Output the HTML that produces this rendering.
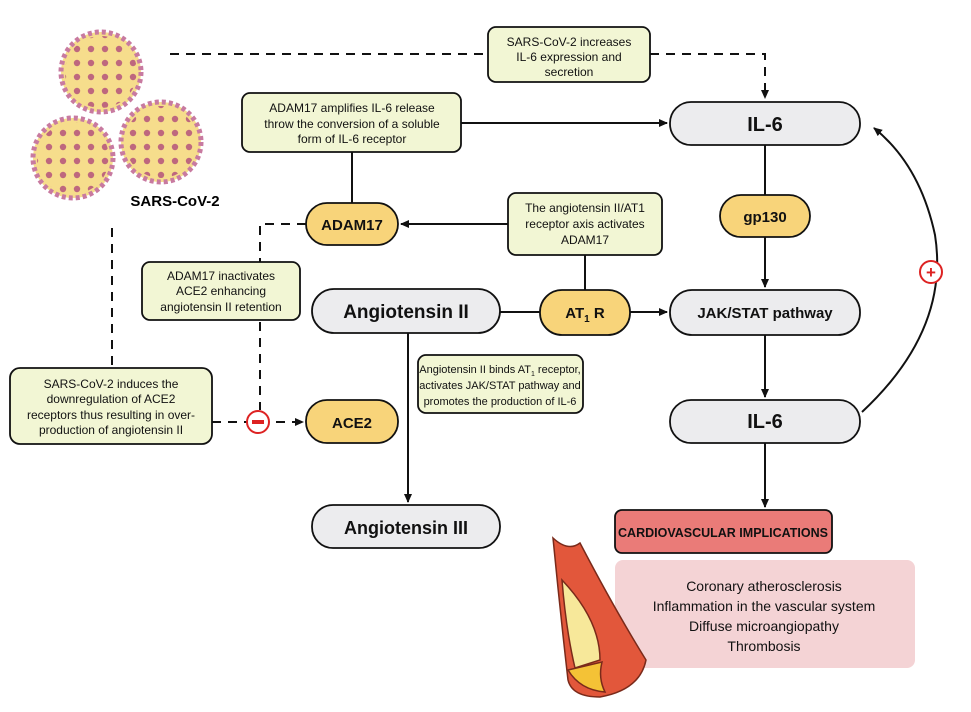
<!DOCTYPE html>
<html><head><meta charset="utf-8"><style>
body{margin:0;background:#fff}
svg text{font-family:"Liberation Sans",sans-serif}
</style></head><body>
<svg width="971" height="707" viewBox="0 0 971 707" xmlns="http://www.w3.org/2000/svg">
<defs>
<marker id="ar" markerWidth="10" markerHeight="10" refX="8" refY="5" orient="auto" markerUnits="userSpaceOnUse"><path d="M0,1 L9,5 L0,9 z" fill="#111"/></marker>
<pattern id="vp" width="14" height="14" patternUnits="userSpaceOnUse"><circle cx="7" cy="7" r="3.2" fill="#b04a7a"/></pattern>
</defs>
<g id="virus">
<circle cx="101" cy="72" r="40" fill="#f6dd8c" stroke="#c87aa0" stroke-width="5" stroke-dasharray="4 3"/>
<circle cx="101" cy="72" r="36" fill="url(#vp)" opacity="0.8"/>
<circle cx="73" cy="158" r="40" fill="#f6dd8c" stroke="#c87aa0" stroke-width="5" stroke-dasharray="4 3"/>
<circle cx="73" cy="158" r="36" fill="url(#vp)" opacity="0.8"/>
<circle cx="161" cy="142" r="40" fill="#f6dd8c" stroke="#c87aa0" stroke-width="5" stroke-dasharray="4 3"/>
<circle cx="161" cy="142" r="36" fill="url(#vp)" opacity="0.8"/>
</g>
<text x="175" y="206" font-size="15" font-weight="bold" text-anchor="middle">SARS-CoV-2</text>

<g fill="none" stroke="#111" stroke-width="2">
<path d="M170 54 H765 V98" stroke-dasharray="9 7" marker-end="url(#ar)"/>
<path d="M461 123 H667" marker-end="url(#ar)"/>
<path d="M352 152 V203"/>
<path d="M508 224 H401" marker-end="url(#ar)"/>
<path d="M585 255 V290"/>
<path d="M306 224 H260 V410" stroke-dasharray="9 7"/>
<path d="M500 312 H540"/>
<path d="M630 312 H667" marker-end="url(#ar)"/>
<path d="M765 145 V195"/>
<path d="M765 237 V287" marker-end="url(#ar)"/>
<path d="M765 335 V397" marker-end="url(#ar)"/>
<path d="M765 443 V507" marker-end="url(#ar)"/>
<path d="M408 333 V502" marker-end="url(#ar)"/>
<path d="M112 228 V368" stroke-dasharray="9 7"/>
<path d="M212 422 H303" stroke-dasharray="9 7" marker-end="url(#ar)"/>
<path d="M862 412 Q950 330 935 235 Q920 165 874 128" marker-end="url(#ar)"/>
</g>
<circle cx="931" cy="272" r="11" fill="#fff" stroke="#d22" stroke-width="2"/>
<text x="931" y="278" font-size="17" font-weight="bold" fill="#d22" text-anchor="middle">+</text>
<circle cx="258" cy="422" r="11" fill="#fff" stroke="#d22" stroke-width="2"/>
<rect x="252" y="420" width="12" height="4" fill="#d22"/>

<g stroke="#111" stroke-width="1.8">
<rect x="488" y="27" width="162" height="55" rx="8" fill="#f2f6d4"/>
<rect x="242" y="93" width="219" height="59" rx="8" fill="#f2f6d4"/>
<rect x="508" y="193" width="154" height="62" rx="8" fill="#f2f6d4"/>
<rect x="142" y="262" width="158" height="58" rx="8" fill="#f2f6d4"/>
<rect x="418" y="355" width="165" height="58" rx="8" fill="#f2f6d4"/>
<rect x="10" y="368" width="202" height="76" rx="10" fill="#f2f6d4"/>
<rect x="670" y="102" width="190" height="43" rx="21" fill="#ececee"/>
<rect x="670" y="290" width="190" height="45" rx="22" fill="#ececee"/>
<rect x="670" y="400" width="190" height="43" rx="21" fill="#ececee"/>
<rect x="312" y="289" width="188" height="44" rx="22" fill="#ececee"/>
<rect x="312" y="505" width="188" height="43" rx="21" fill="#ececee"/>
<rect x="306" y="203" width="92" height="42" rx="21" fill="#f8d47a"/>
<rect x="306" y="400" width="92" height="43" rx="21" fill="#f8d47a"/>
<rect x="540" y="290" width="90" height="45" rx="22" fill="#f8d47a"/>
<rect x="720" y="195" width="90" height="42" rx="21" fill="#f8d47a"/>
<rect x="615" y="510" width="217" height="43" rx="7" fill="#ea7b78"/>
</g>
<rect x="615" y="560" width="300" height="108" rx="8" fill="#f4d3d5"/>

<g font-size="12" text-anchor="middle" fill="#111">
<text x="569" y="46">SARS-CoV-2 increases</text><text x="569" y="61">IL-6 expression and</text><text x="569" y="76">secretion</text>
<text x="352" y="112">ADAM17 amplifies IL-6 release</text><text x="352" y="128">throw the conversion of a soluble</text><text x="352" y="143">form of IL-6 receptor</text>
<text x="585" y="212">The angiotensin II/AT1</text><text x="585" y="228">receptor axis activates</text><text x="585" y="244">ADAM17</text>
<text x="221" y="280">ADAM17 inactivates</text><text x="221" y="295">ACE2 enhancing</text><text x="221" y="311">angiotensin II retention</text>
</g>
<g font-size="11" text-anchor="middle" fill="#111">
<text x="500" y="373">Angiotensin II binds AT<tspan font-size="7" dy="3">1</tspan><tspan dy="-3"> receptor,</tspan></text><text x="500" y="389">activates JAK/STAT pathway and</text><text x="500" y="405">promotes the production of IL-6</text>
</g>
<g font-size="12" text-anchor="middle" fill="#111">
<text x="111" y="388">SARS-CoV-2 induces the</text><text x="111" y="403">downregulation of ACE2</text><text x="111" y="419">receptors thus resulting in over-</text><text x="111" y="434">production of angiotensin II</text>
</g>
<g font-weight="bold" text-anchor="middle" fill="#111">
<text x="765" y="131" font-size="20">IL-6</text>
<text x="765" y="428" font-size="20">IL-6</text>
<text x="765" y="318" font-size="15">JAK/STAT pathway</text>
<text x="406" y="318" font-size="19">Angiotensin II</text>
<text x="406" y="534" font-size="18">Angiotensin III</text>
<text x="352" y="230" font-size="15">ADAM17</text>
<text x="352" y="428" font-size="15">ACE2</text>
<text x="765" y="222" font-size="15">gp130</text>
<text x="585" y="318" font-size="15">AT<tspan font-size="10" dy="4">1</tspan><tspan dy="-4"> R</tspan></text>
<text x="723" y="537" font-size="12.5">CARDIOVASCULAR IMPLICATIONS</text>
</g>
<g font-size="14" text-anchor="middle" fill="#111">
<text x="764" y="591">Coronary atherosclerosis</text>
<text x="764" y="611">Inflammation in the vascular system</text>
<text x="764" y="631">Diffuse microangiopathy</text>
<text x="764" y="651">Thrombosis</text>
</g>
<g stroke="#7a2a1a" stroke-width="1.5">
<path d="M553 538 Q568 552 580 543 Q615 610 646 660 Q640 690 600 697 Q572 697 568 680 Q560 610 553 538 Z" fill="#e2573b"/>
<path d="M562 580 Q600 620 600 660 L575 668 Q566 630 562 580 Z" fill="#f7e89a"/>
<path d="M568 670 L602 662 Q598 678 605 692 Q580 690 568 670 Z" fill="#f4c236"/>
</g>
</svg>
</body></html>
